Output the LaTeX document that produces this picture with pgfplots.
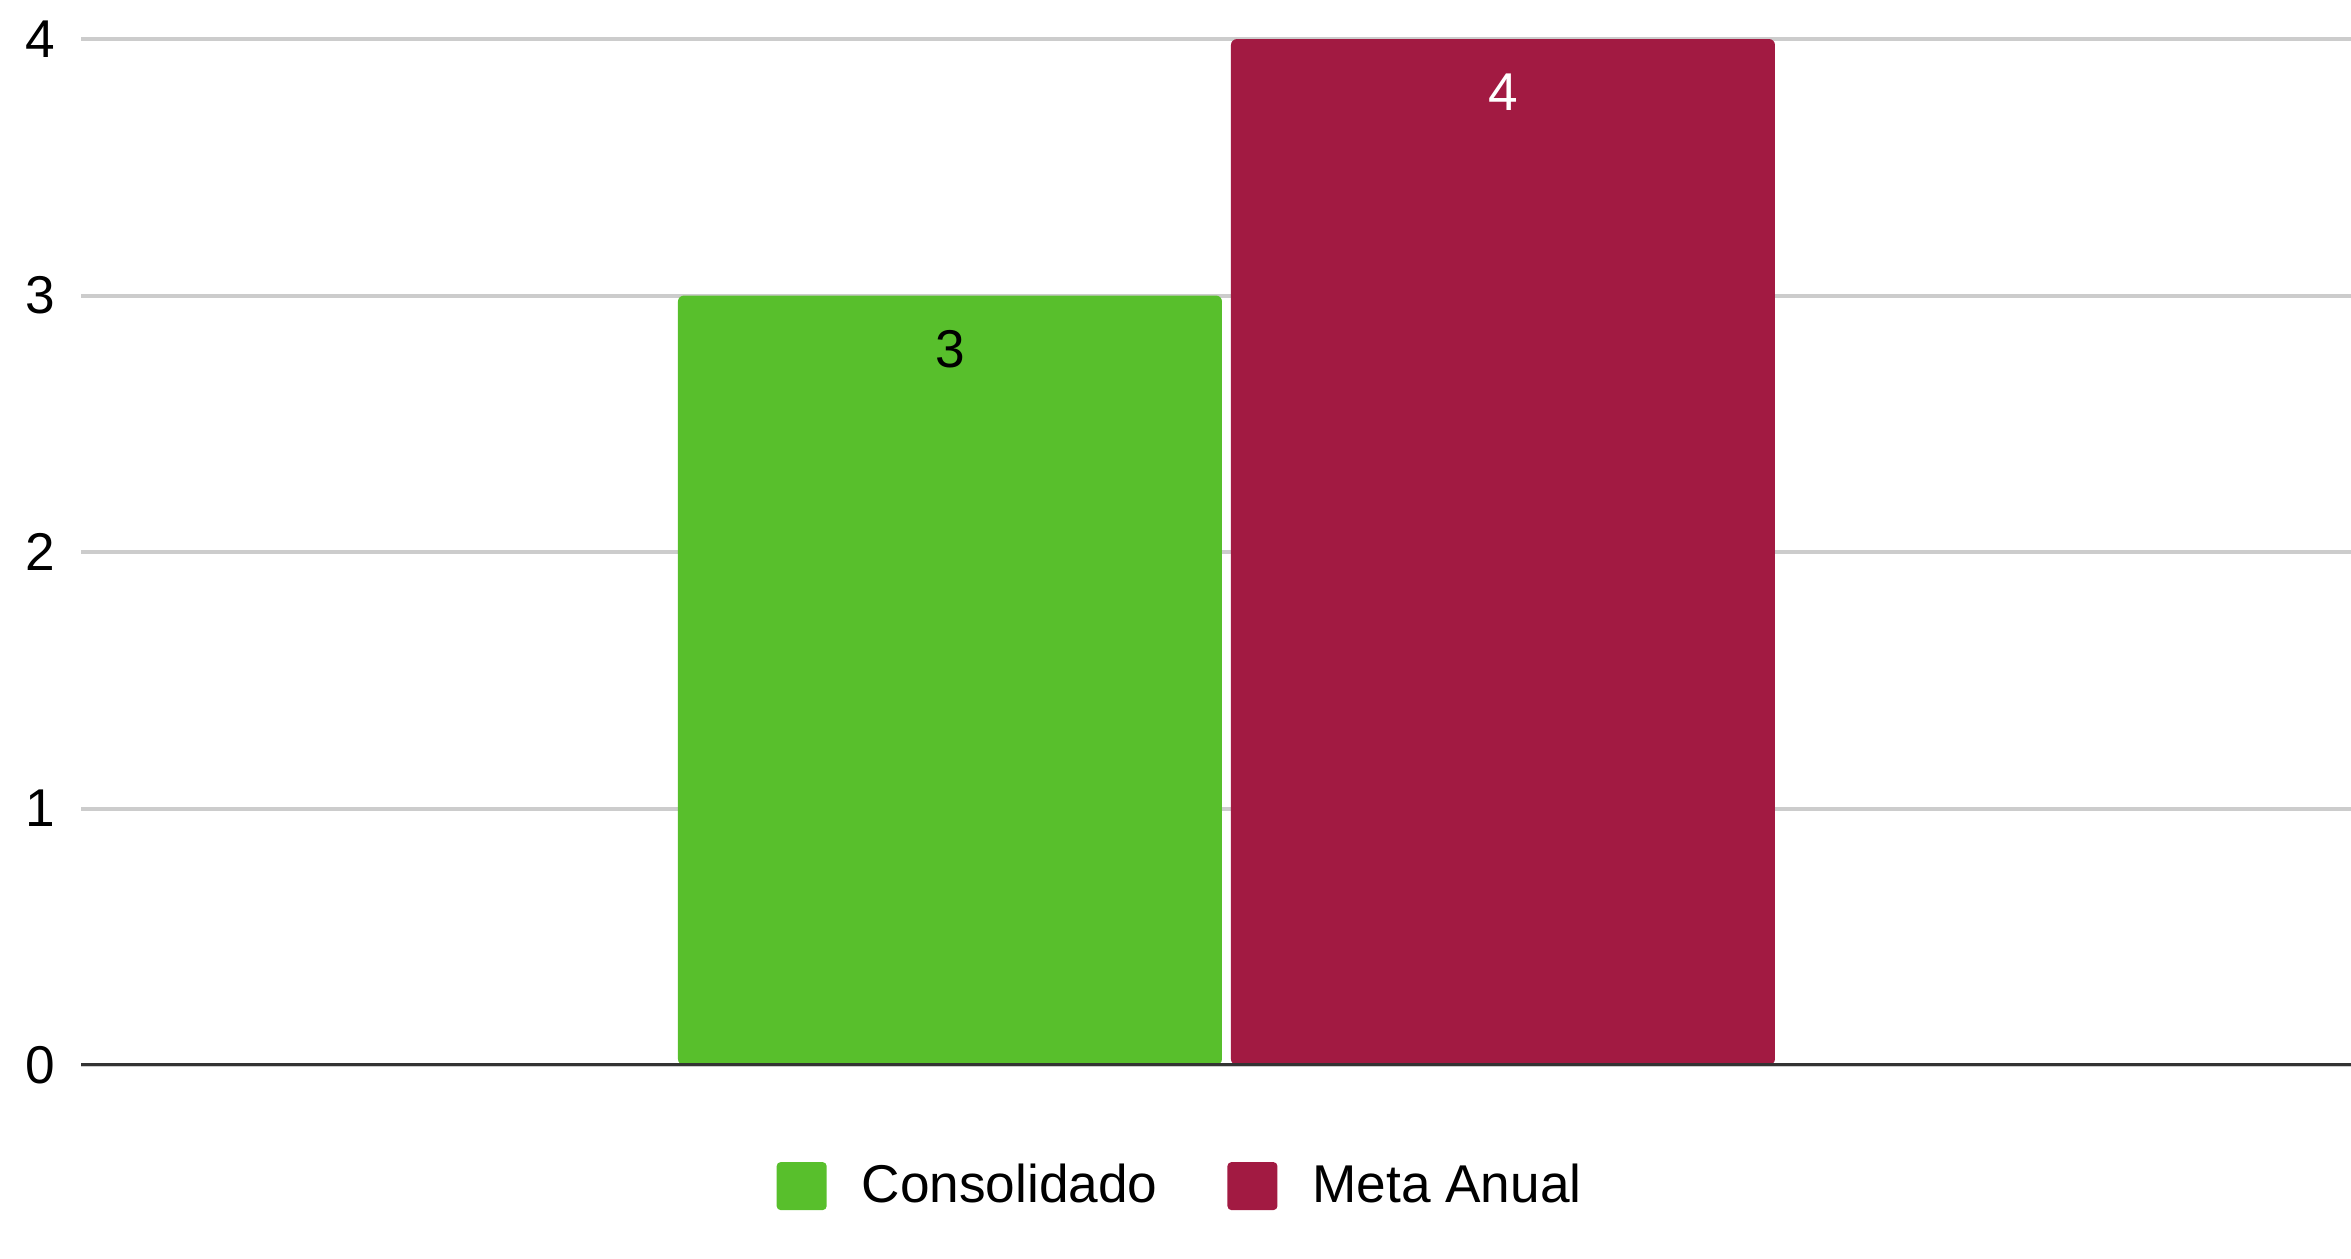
\documentclass[border=0pt]{standalone}
\usepackage{fontspec}
\setmainfont{Liberation Sans}
\usepackage{pgfplots}
\pgfplotsset{compat=1.18}
\definecolor{verde}{HTML}{58BF2C}
\definecolor{vinho}{HTML}{A21A42}
\definecolor{grade}{HTML}{CCCCCC}
\definecolor{base}{HTML}{333333}

\begin{document}
\begin{tikzpicture}
\begin{axis}[
  scale only axis, width=567.5pt, height=256.5pt,
  xmin=0, xmax=1, ymin=0, ymax=4,
  ytick={0,1,2,3,4}, xtick=\empty,
  ymajorgrids, grid style={grade, line width=1pt},
  axis line style={draw=none},
  major tick length=0pt,
  font=\fontsize{13.3}{15}\selectfont,
  /pgf/number format/assume math mode=true,
  yticklabel style={xshift=-3pt},
  nodes near coords,
  nodes near coords style={anchor=north, yshift=-5.2pt},
  legend columns=-1,
  legend style={at={(0.4855,-0.118)}, anchor=center, draw=none, fill=none,
    font=\fontsize{13.3}{15}\selectfont,
    /tikz/every odd column/.append style={column sep=6.75pt},
    /tikz/every even column/.append style={column sep=15.5pt}},
]
% Consolidado
\addplot[ybar, bar width=0.23965, bar shift=0pt, fill=verde, draw=none,
  rounded corners=1.5pt,
  every node near coord/.append style={text=black},
  legend image code/.code={\fill[verde,rounded corners=1pt] (0pt,-6pt) rectangle (12.5pt,6pt);}]
  coordinates {(0.3828,3)};
% Meta Anual
\addplot[ybar, bar width=0.23965, bar shift=0pt, fill=vinho, draw=none,
  rounded corners=1.5pt,
  every node near coord/.append style={text=white},
  legend image code/.code={\fill[vinho,rounded corners=1pt] (0pt,-6pt) rectangle (12.5pt,6pt);}]
  coordinates {(0.6264,4)};
\legend{Consolidado, Meta Anual}
\draw[base, line width=1.2pt] (rel axis cs:0,0) -- (rel axis cs:1,0);
\end{axis}
\pgfresetboundingbox
\path[use as bounding box] (-20.25pt,-48.25pt) rectangle (567.5pt,266.25pt);
\end{tikzpicture}
\end{document}
